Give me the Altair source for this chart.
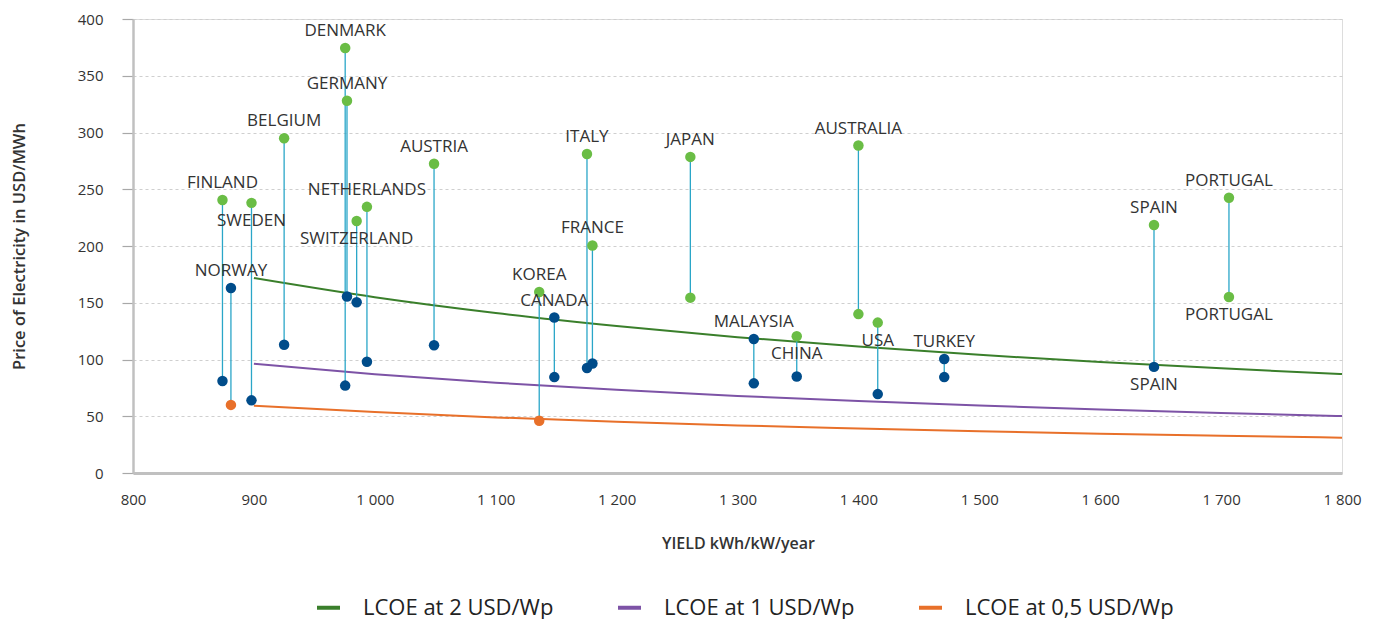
import altair as alt
import pandas as pd

# ---------------- data ----------------
countries = ["FINLAND", "NORWAY", "SWEDEN", "BELGIUM", "DENMARK", "GERMANY",
             "SWITZERLAND", "NETHERLANDS", "AUSTRIA", "KOREA", "CANADA", "ITALY",
             "FRANCE", "JAPAN", "MALAYSIA", "CHINA", "AUSTRALIA", "USA", "TURKEY",
             "SPAIN", "PORTUGAL"]
yields = [874, 881, 898, 925, 975.5, 977, 985, 993.5, 1049, 1136, 1148.5, 1175.5,
          1180, 1261, 1313.5, 1349, 1400, 1416, 1471, 1644.5, 1706.5]
upper_values = [240.5, 163, 238, 295, 374.5, 328, 222, 234.5, 272.5, 159.5, 137, 281,
                200.5, 278.5, 118, 120.5, 288.5, 132.5, 100.5, 218.5, 242.5]
upper_kinds = ["green", "blue", "green", "green", "green", "green", "green", "green",
               "green", "green", "blue", "green", "green", "green", "blue", "green",
               "green", "green", "blue", "green", "green"]
lower_values = [81, 60, 64, 113, 77, 155.5, 150.5, 98, 112.5, 46, 84.5, 92.5, 96.5,
                154.5, 79, 85, 140, 69.5, 84.5, 93.5, 155]
lower_kinds = ["blue", "orange", "blue", "blue", "blue", "blue", "blue", "blue", "blue",
               "orange", "blue", "blue", "blue", "green", "blue", "blue", "green",
               "blue", "blue", "blue", "green"]
# where the country name sits relative to its upper point
upper_label_side = ["above", "above", "below", "above", "above", "above", "below",
                    "above", "above", "above", "above", "above", "above", "above",
                    "above", "below", "above", "below", "above", "above", "above"]
# countries whose lower point also carries a label (below it)
lower_labelled = ["SPAIN", "PORTUGAL"]

curve_yield = [900, 1000, 1100, 1200, 1300, 1400, 1500, 1600, 1700, 1800]
lcoe_2 = [171.8, 154.9, 141.0, 129.5, 119.7, 111.4, 104.1, 97.8, 92.2, 87.2]
lcoe_1 = [96.3, 87.1, 79.5, 73.3, 67.9, 63.4, 59.4, 56.0, 52.9, 50.2]
lcoe_05 = [59.3, 53.7, 49.0, 45.2, 41.9, 39.2, 36.7, 34.6, 32.8, 31.1]
series_names = ["LCOE at 2 USD/Wp", "LCOE at 1 USD/Wp", "LCOE at 0,5 USD/Wp"]

x_ticks = [800, 900, 1000, 1100, 1200, 1300, 1400, 1500, 1600, 1700, 1800]
y_ticks = [0, 50, 100, 150, 200, 250, 300, 350, 400]

# ---------------- tables ----------------
seg_df = pd.DataFrame({"country": countries, "yield": yields,
                       "value": upper_values, "lower": lower_values})

pts_df = pd.DataFrame({
    "country": countries + countries,
    "yield": yields + yields,
    "value": upper_values + lower_values,
    "kind": upper_kinds + lower_kinds,
})

lab_rows = []
for c, x, v, side in zip(countries, yields, upper_values, upper_label_side):
    lab_rows.append({"label": c, "yield": x, "value": v, "side": side})
for c, x, v in zip(countries, yields, lower_values):
    if c in lower_labelled:
        lab_rows.append({"label": c, "yield": x, "value": v, "side": "below"})
lab_df = pd.DataFrame(lab_rows)

curve_rows = []
for name, vals in zip(series_names, [lcoe_2, lcoe_1, lcoe_05]):
    for x, v in zip(curve_yield, vals):
        curve_rows.append({"series": name, "yield": x, "value": v})
curve_df = pd.DataFrame(curve_rows)

FONT = "Open Sans"
x_scale = alt.Scale(domain=[800, 1800], nice=False, zero=False)
y_scale = alt.Scale(domain=[0, 400], nice=False)

x_axis = alt.Axis(
    values=x_ticks, title="YIELD kWh/kW/year", grid=False,
    labelExpr="replace(format(datum.value, ','), ',', ' ')",
    labelFont=FONT, labelFontSize=15, labelColor="#333333", labelPadding=19,
    labelFlush=False, labelOverlap=False,
    tickSize=0, domainColor="#c0c0c0", domainWidth=3,
    titleFont=FONT, titleFontSize=16, titleFontWeight=600, titleColor="#333333",
    titleX=605, titleY=70, titleBaseline="middle", titleAlign="center",
)
y_axis = alt.Axis(
    values=y_ticks, title="Price of Electricity in USD/MWh",
    labelFont=FONT, labelFontSize=15, labelColor="#333333", labelPadding=19,
    labelFlush=False, labelOverlap=False,
    tickSize=11, tickColor="#a8a8a8", tickWidth=1.2,
    domainColor="#c0c0c0", domainWidth=2.5,
    grid=True, gridColor="#cfcfcf", gridDash=[3, 3], gridWidth=1.2,
    titleFont=FONT, titleFontSize=16.5, titleFontWeight=600, titleColor="#333333",
    titleX=-114, titleY=227, titleAngle=-90, titleBaseline="middle", titleAlign="center",
)


def X():
    return alt.X("yield:Q", scale=x_scale, axis=x_axis)


def Y():
    return alt.Y("value:Q", scale=y_scale, axis=y_axis)


curves = alt.Chart(curve_df).mark_line(strokeWidth=2, interpolate="monotone").encode(
    x=X(),
    y=Y(),
    color=alt.Color("series:N",
                    scale=alt.Scale(domain=series_names,
                                    range=["#3a7f2b", "#7d53a6", "#e8702a"]),
                    legend=alt.Legend(
                        title=None, orient="none", direction="horizontal",
                        legendX=182, legendY=575,
                        symbolType="stroke", symbolStrokeWidth=4, symbolSize=529,
                        labelFont=FONT, labelFontSize=22, labelColor="#222222",
                        labelOffset=21, columnPadding=56, labelLimit=400,
                    )),
    detail="series:N",
)

connectors = alt.Chart(seg_df).mark_rule(color="#2aa6c8", strokeWidth=1.3).encode(
    x=X(),
    y=Y(),
    y2="lower:Q",
)

points = alt.Chart(pts_df).mark_circle(size=110, opacity=1).encode(
    x=X(),
    y=Y(),
    fill=alt.Fill("kind:N",
                  scale=alt.Scale(domain=["green", "blue", "orange"],
                                  range=["#6abd45", "#004c8a", "#e8702a"]),
                  legend=None),
)

labels_above = alt.Chart(lab_df).transform_filter(alt.datum.side == "above").mark_text(
    font=FONT, fontSize=17, color="#333333", baseline="middle", dy=-17
).encode(
    x=X(),
    y=Y(),
    text="label:N",
)
labels_below = alt.Chart(lab_df).transform_filter(alt.datum.side == "below").mark_text(
    font=FONT, fontSize=17, color="#333333", baseline="middle", dy=18
).encode(
    x=X(),
    y=Y(),
    text="label:N",
)

chart = alt.layer(curves, connectors, points, labels_above, labels_below).resolve_scale(
    color="independent", fill="independent"
).properties(
    width=1209, height=454,
    autosize=alt.AutoSizeParams(type="none"),
    padding={"left": 125, "top": 11, "right": 24, "bottom": 147},
).configure_view(strokeWidth=0).configure(background="white")

chart.save("out.html", embed_options={"renderer": "svg", "actions": False})
